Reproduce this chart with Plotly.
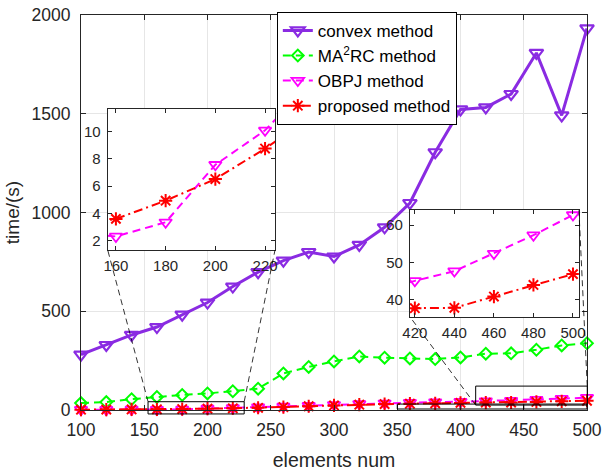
import plotly.graph_objects as go

# ---- data ---------------------------------------------------------------
elements = [100, 120, 140, 160, 180, 200, 220, 240, 260, 280, 300,
            320, 340, 360, 380, 400, 420, 440, 460, 480, 500]
convex = [280, 329, 380, 420, 483, 544, 625, 698, 756, 800, 777,
          836, 925, 1048, 1305, 1522, 1532, 1600, 1808, 1492, 1932]
ma2rc = [35, 40, 55, 66, 76, 84, 95, 108, 185, 218, 246,
         271, 265, 261, 258, 266, 285, 287, 305, 327, 338]
obpj = [1.2, 1.5, 2.6, 2.3, 3.34, 7.57, 10.1, 14, 18, 22, 26,
        31, 34, 37, 40, 42, 45.1, 47.7, 52.4, 57.3, 62.7]
proposed = [1.5, 2.1, 2.87, 3.59, 4.93, 6.52, 8.76, 11.3, 15, 19, 23,
            27, 30, 32, 34, 36, 37.8, 37.9, 40.9, 44, 46.9]

x_ticks = [100, 150, 200, 250, 300, 350, 400, 450, 500]
y_ticks = [0, 500, 1000, 1500, 2000]
in1_xticks = [160, 180, 200, 220]
in1_yticks = [2, 4, 6, 8, 10]
in2_xticks = [420, 440, 460, 480, 500]
in2_yticks = [40, 50, 60]

# ---- layout constants ---------------------------------------------------
X_RANGE = [100, 500]
Y_RANGE = [0, 2000]
IN1_XR, IN1_YR = [156.7, 224], [1.3, 11.67]
IN2_XR, IN2_YR = [417.5, 503], [35.5, 64]
IN1_DOM = ([0.0528, 0.3834], [0.405, 0.762])
IN2_DOM = ([0.650, 0.984], [0.236, 0.506])
BOX1 = (153, 229, -20, 42)
BOX2 = (412, 500.2, 25, 121)
BOX3 = (350, 500, 5, 30)

FONT = "Liberation Sans, Arial, sans-serif"
AX = "#262626"
PURPLE, GREEN, MAGENTA, RED = "#8A2BE2", "#00FF00", "#FF00FF", "#FF0000"

series = [
    dict(name="convex method", y=convex, color=PURPLE, width=3, dash="solid",
         symbol="triangle-down-open", size=12, mlw=2.2),
    dict(name="MA<sup>2</sup>RC method", y=ma2rc, color=GREEN, width=2,
         dash="8px,5px", symbol="diamond-open", size=9, mlw=2),
    dict(name="OBPJ method", y=obpj, color=MAGENTA, width=2, dash="8px,5px",
         symbol="triangle-down-open", size=11, mlw=1.8),
    dict(name="proposed method", y=proposed, color=RED, width=2,
         dash="9px,4px,2px,4px", symbol="asterisk-open", size=11, mlw=2),
]

fig = go.Figure()

for s in series:
    fig.add_trace(go.Scatter(
        x=elements, y=s["y"], name=s["name"], mode="lines+markers",
        line=dict(color=s["color"], width=s["width"], dash=s["dash"]),
        marker=dict(symbol=s["symbol"], size=s["size"], color=s["color"],
                    line=dict(width=s["mlw"], color=s["color"])),
        cliponaxis=False, xaxis="x", yaxis="y"))

# zoomed copies of the two small-time series
for s in series[2:]:
    for xa, ya in (("x2", "y2"), ("x3", "y3")):
        fig.add_trace(go.Scatter(
            x=elements, y=s["y"], mode="lines+markers", showlegend=False,
            line=dict(color=s["color"], width=s["width"], dash=s["dash"]),
            marker=dict(symbol=s["symbol"], size=s["size"], color=s["color"],
                        line=dict(width=s["mlw"], color=s["color"])),
            xaxis=xa, yaxis=ya))


def axis_style(**kw):
    d = dict(showline=True, mirror="ticks", linecolor=AX, linewidth=1,
             ticks="inside", ticklen=5, tickcolor=AX, tickwidth=1,
             zeroline=False, automargin=False,
             tickfont=dict(family=FONT, size=17.5, color=AX))
    d.update(kw)
    return d


def px(x):
    return (x - X_RANGE[0]) / (X_RANGE[1] - X_RANGE[0])


def py(y):
    return (y - Y_RANGE[0]) / (Y_RANGE[1] - Y_RANGE[0])


shapes = []
# white backing for each inset
for (xr, yr, xa, ya) in ((IN1_XR, IN1_YR, "x2", "y2"), (IN2_XR, IN2_YR, "x3", "y3")):
    shapes.append(dict(type="rect", xref=xa, yref=ya, layer="below",
                       x0=xr[0], x1=xr[1], y0=yr[0], y1=yr[1],
                       fillcolor="white", line=dict(width=0)))

# zoom boxes on the main axes
for (x0, x1, y0, y1) in (BOX1, BOX2, BOX3):
    shapes.append(dict(type="rect", xref="paper", yref="paper", layer="above",
                       x0=px(x0), x1=px(x1), y0=py(y0), y1=py(y1),
                       line=dict(color="black", width=1)))
shapes.append(dict(type="line", xref="paper", yref="paper", layer="above",
                   x0=px(450), x1=px(450), y0=py(BOX3[2]), y1=py(BOX3[3]),
                   line=dict(color="black", width=1)))

# connector lines box -> inset
conn = dict(color="black", width=0.8, dash="6px,4px")
shapes += [
    dict(type="line", xref="paper", yref="paper", layer="above", line=conn,
         x0=px(BOX1[0]), y0=py(BOX1[3]), x1=IN1_DOM[0][0], y1=IN1_DOM[1][0]),
    dict(type="line", xref="paper", yref="paper", layer="above", line=conn,
         x0=px(BOX1[1]), y0=py(BOX1[3]), x1=IN1_DOM[0][1], y1=IN1_DOM[1][0]),
    dict(type="line", xref="paper", yref="paper", layer="above", line=conn,
         x0=px(BOX2[0]), y0=py(BOX2[2]), x1=IN2_DOM[0][0], y1=IN2_DOM[1][0]),
    dict(type="line", xref="paper", yref="paper", layer="above", line=conn,
         x0=px(BOX2[1]), y0=py(BOX2[3]), x1=IN2_DOM[0][1], y1=IN2_DOM[1][1]),
]

inset_font = dict(family=FONT, size=15, color=AX)

fig.update_layout(
    width=603, height=471,
    margin=dict(l=81, r=16, t=15, b=61, autoexpand=False),
    paper_bgcolor="white", plot_bgcolor="white",
    font=dict(family=FONT, color=AX),
    xaxis=axis_style(range=X_RANGE, tickvals=x_ticks, showgrid=True,
                     gridcolor="#e6e6e6", gridwidth=1, ticklabelstandoff=4,
                     title=dict(text="elements num", standoff=17,
                                font=dict(family=FONT, size=19.5, color=AX))),
    yaxis=axis_style(range=Y_RANGE, tickvals=y_ticks, showgrid=True,
                     gridcolor="#e6e6e6", gridwidth=1, ticklabelstandoff=6,
                     title=dict(text="time/(s)", standoff=6,
                                font=dict(family=FONT, size=19, color=AX))),
    xaxis2=axis_style(domain=IN1_DOM[0], anchor="y2", range=IN1_XR,
                      tickvals=in1_xticks, showgrid=False, ticklen=4,
                      tickfont=inset_font, ticklabelstandoff=2),
    yaxis2=axis_style(domain=IN1_DOM[1], anchor="x2", range=IN1_YR,
                      tickvals=in1_yticks, showgrid=False, ticklen=4,
                      tickfont=inset_font, ticklabelstandoff=3),
    xaxis3=axis_style(domain=IN2_DOM[0], anchor="y3", range=IN2_XR,
                      tickvals=in2_xticks, showgrid=False, ticklen=4,
                      tickfont=inset_font, ticklabelstandoff=2),
    yaxis3=axis_style(domain=IN2_DOM[1], anchor="x3", range=IN2_YR,
                      tickvals=in2_yticks, showgrid=False, ticklen=4,
                      tickfont=inset_font, ticklabelstandoff=3),
    legend=dict(x=0.387, y=1.008, xanchor="left", yanchor="top",
                bgcolor="white", bordercolor="black", borderwidth=1,
                font=dict(family=FONT, size=17, color="black"),
                tracegroupgap=0, itemwidth=30),
    shapes=shapes,
)

fig.write_html("out.html")
